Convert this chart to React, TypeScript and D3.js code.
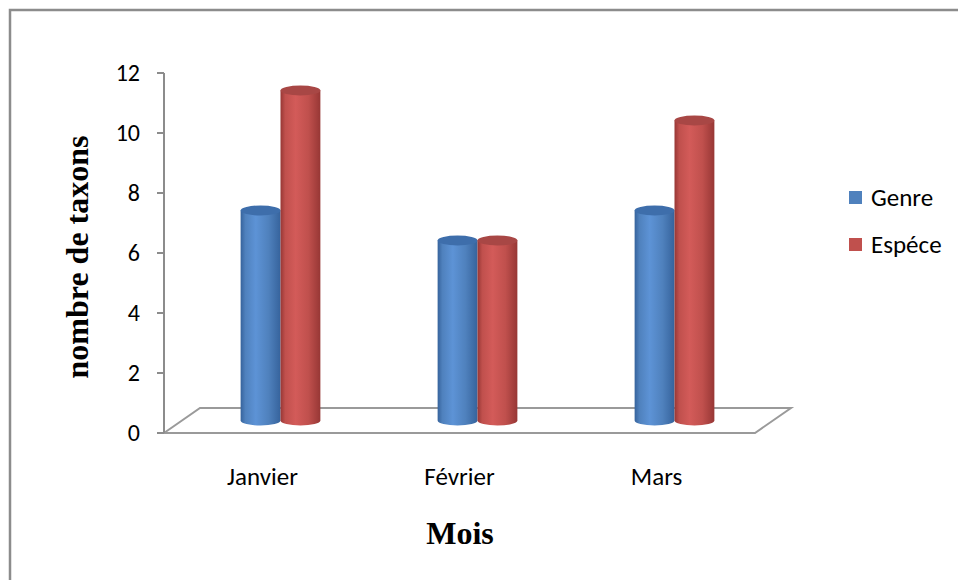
import React from "react";
import * as d3 from "d3";

// Monthly taxon counts
const months = ["Janvier", "Février", "Mars"];
const seriesNames = ["Genre", "Espéce"];
const genreValues = [7, 6, 7];
const especeValues = [11, 6, 10];
const yTicks = [0, 2, 4, 6, 8, 10, 12];

const W = 958;
const H = 580;

const palette = [
  { base: "#4F81BD", dark: "#36639c", light: "#5d93d6", top: "#3e6eab" },
  { base: "#C0504D", dark: "#973735", light: "#d35b59", top: "#a84745" },
];

const labelFont = "Carlito, Calibri, Lato, sans-serif";
const titleFont = "'Liberation Serif', 'Times New Roman', serif";

export default function App() {
  const frontLeft = 164;
  const frontRight = 755;
  const depthX = 36;
  const depthY = -25;

  const y = d3.scaleLinear().domain([0, 12]).range([433, 73]);
  const zeroY = y(0);

  // category band on the front plane (for labels) and mid-depth (for columns)
  const xFront = d3.scaleBand<string>().domain(months).range([frontLeft, frontRight]);
  const xMid = d3
    .scaleBand<string>()
    .domain(months)
    .range([frontLeft + depthX / 2, frontRight + depthX / 2]);
  const xSub = d3
    .scaleBand<string>()
    .domain(seriesNames)
    .range([0, xMid.bandwidth()])
    .paddingOuter(1.47)
    .paddingInner(0);

  const series = [genreValues, especeValues];
  const baseY = zeroY + depthY / 2;
  const ry = 5;

  const floor: [number, number][] = [
    [frontLeft, zeroY],
    [frontLeft + depthX, zeroY + depthY],
    [frontRight + depthX, zeroY + depthY],
    [frontRight, zeroY],
    [frontLeft, zeroY],
  ];

  return (
    <svg
      width={W}
      height={H}
      style={{ position: "absolute", left: 0, top: 0, background: "#fff" }}
    >
      <defs>
        {palette.map((p, i) => (
          <linearGradient key={i} id={`cyl${i}`} x1="0" x2="1" y1="0" y2="0">
            <stop offset="0" stopColor={p.dark} />
            <stop offset="0.12" stopColor={p.base} />
            <stop offset="0.38" stopColor={p.light} />
            <stop offset="0.7" stopColor={p.base} />
            <stop offset="1" stopColor={p.dark} />
          </linearGradient>
        ))}
      </defs>

      <rect x={10} y={10} width={W + 20} height={H + 20} fill="none" stroke="#8c8c8c" strokeWidth={2.5} />

      {/* floor */}
      <path
        d={d3.line()(floor) as string}
        fill="none"
        stroke="#9a9a9a"
        strokeWidth={2}
        strokeLinejoin="miter"
      />

      {/* value axis */}
      <line x1={frontLeft} x2={frontLeft} y1={y(12)} y2={zeroY} stroke="#8c8c8c" strokeWidth={2} />
      {yTicks.map((t) => (
        <g key={t}>
          <line x1={frontLeft - 7} x2={frontLeft} y1={y(t)} y2={y(t)} stroke="#8c8c8c" strokeWidth={2} />
          <text
            x={140}
            y={y(t)}
            dy="0.35em"
            textAnchor="end"
            fontFamily={labelFont}
            fontSize={24}
            fill="#000"
          >
            {t}
          </text>
        </g>
      ))}

      {/* columns */}
      {months.map((m, mi) =>
        seriesNames.map((s, si) => {
          const v = series[si][mi];
          const left = (xMid(m) as number) + (xSub(s) as number);
          const w = xSub.bandwidth();
          const r = w / 2;
          const cx = left + r;
          const topY = y(v) + depthY / 2;
          const body = `M${left},${topY} L${left},${baseY} A${r},${ry} 0 0 0 ${left + w},${baseY} L${left + w},${topY} Z`;
          return (
            <g key={`${m}-${s}`}>
              <path d={body} fill={`url(#cyl${si})`} />
              <ellipse cx={cx} cy={topY} rx={r} ry={ry} fill={palette[si].top} />
            </g>
          );
        })
      )}

      {/* category labels */}
      {months.map((m) => (
        <text
          key={m}
          x={(xFront(m) as number) + xFront.bandwidth() / 2}
          y={485}
          textAnchor="middle"
          fontFamily={labelFont}
          fontSize={25}
          fill="#000"
        >
          {m}
        </text>
      ))}

      {/* axis titles */}
      <text
        transform={`translate(88,257) rotate(-90)`}
        textAnchor="middle"
        fontFamily={titleFont}
        fontWeight="bold"
        fontSize={32}
        fill="#000"
      >
        nombre de taxons
      </text>
      <text
        x={460}
        y={544}
        textAnchor="middle"
        fontFamily={titleFont}
        fontWeight="bold"
        fontSize={32}
        fill="#000"
      >
        Mois
      </text>

      {/* legend */}
      {seriesNames.map((s, i) => (
        <g key={s} transform={`translate(849,${191 + i * 47})`}>
          <rect width={13} height={13} fill={palette[i].base} />
          <text
            x={22}
            y={6.5}
            dy="0.35em"
            fontFamily={labelFont}
            fontSize={25}
            fill="#000"
          >
            {s}
          </text>
        </g>
      ))}
    </svg>
  );
}
